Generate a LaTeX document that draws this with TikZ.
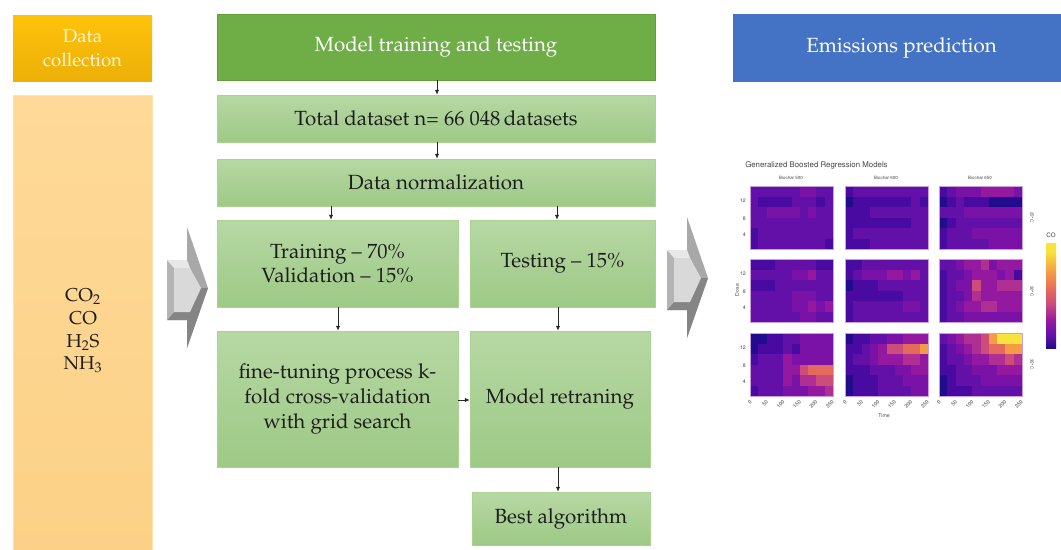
\documentclass[tikz,border=0pt]{standalone}
\usepackage[T1]{fontenc}
\usepackage{mathpazo}
\usepackage[scaled=0.92]{helvet}
\usetikzlibrary{arrows.meta}

% box colours
\definecolor{gtop}{HTML}{B7D8A4}
\definecolor{gbot}{HTML}{9DC985}
\definecolor{boxedge}{HTML}{ACD292}
\definecolor{ghead}{HTML}{6FAD47}
\definecolor{gheadedge}{HTML}{639D3E}
\definecolor{bhead}{HTML}{4472C4}
\definecolor{otop}{HTML}{FFC20A}
\definecolor{obot}{HTML}{ECB008}
\definecolor{ltop}{HTML}{FED998}
\definecolor{lbot}{HTML}{FCD186}
\definecolor{ledge}{HTML}{FDE2AE}
\definecolor{txt}{HTML}{1E1E1E}
\definecolor{cream}{HTML}{FFF6DA}
% bevelled arrow greys
\definecolor{agmid}{HTML}{A8A8A8}
\definecolor{agdark}{HTML}{858585}
\definecolor{agface}{HTML}{D9D9D9}
\definecolor{agleft}{HTML}{B4B4B4}
\definecolor{agtop}{HTML}{E8E8E8}
% heat-map palette (plasma-like)
\definecolor{hm0}{HTML}{220C8E}
\definecolor{hm1}{HTML}{480AA0}
\definecolor{hm2}{HTML}{6210A8}
\definecolor{hm3}{HTML}{7A12A8}
\definecolor{hm4}{HTML}{9418A0}
\definecolor{hm5}{HTML}{B02F92}
\definecolor{hm6}{HTML}{CC4C7A}
\definecolor{hm7}{HTML}{E56A5E}
\definecolor{hm8}{HTML}{F59A45}
\definecolor{hm9}{HTML}{F7E33A}
\definecolor{hmtext}{HTML}{444444}

% colour bar: the visible part of a TikZ shading runs from 25bp to 75bp
\pgfdeclareverticalshading{plasmabar}{100bp}{color(0bp)=(hm0); color(25bp)=(hm0);
  color(31bp)=(hm2); color(38bp)=(hm4); color(46bp)=(hm6); color(53bp)=(hm7);
  color(61bp)=(hm8); color(71bp)=(hm9); color(75bp)=(hm9); color(100bp)=(hm9)}

% heat-map panel: x, y of the top-left corner, cell values row by row
\newcommand\hmpanel[3]{%
  \foreach \hmrow [count=\r from 0] in #3 {%
    \foreach \v [count=\c from 0] in \hmrow {%
      \fill[hm\v] ({#1+\c*8.3},{#2+\r*10.5}) rectangle ++(8.3,10.5);
    }%
  }%
  \draw[hm3!40!white, line width=0.3pt] (#1,#2) rectangle ++(83,63);
}

\def\PanA{{2,2,2,2,2,2,3,3,2,2},{2,1,1,1,1,2,2,2,1,2},{2,2,3,3,3,3,2,3,2,2},{2,2,2,2,2,2,2,2,2,2},{1,2,2,2,2,2,2,2,2,2},{1,2,2,2,2,2,2,2,2,1}}
\def\PanB{{1,2,2,2,2,2,2,2,2,2},{0,1,1,1,1,1,1,1,2,1},{1,1,1,2,2,2,2,2,2,2},{1,1,1,1,1,1,1,1,2,2},{1,2,2,2,2,2,2,2,2,2},{1,1,1,2,2,2,2,2,2,2}}
\def\PanC{{1,2,3,3,3,4,4,4,4,3},{0,1,2,1,1,1,0,0,0,0},{2,2,2,3,3,3,3,3,3,3},{0,1,2,2,2,2,2,2,2,2},{1,2,2,2,3,3,3,3,3,3},{1,2,2,2,2,2,3,3,3,3}}
\def\PanD{{1,1,1,2,2,2,2,2,1,1},{2,2,2,2,2,3,3,4,2,2},{1,1,1,2,2,2,2,2,2,2},{2,2,2,2,2,3,3,3,2,2},{2,2,2,2,2,3,3,4,3,4},{2,2,2,2,2,2,3,3,2,2}}
\def\PanE{{1,1,2,2,2,2,2,2,2,2},{1,2,3,3,3,4,4,3,4,2},{0,1,1,1,2,2,2,2,2,2},{1,1,1,1,1,1,1,2,2,2},{1,2,2,2,2,2,2,3,3,2},{1,2,2,2,2,2,2,2,2,2}}
\def\PanF{{2,2,3,4,4,5,3,4,4,4},{1,2,2,3,4,4,4,3,4,1},{1,2,3,3,6,4,4,5,5,5},{1,2,2,3,5,4,4,4,4,4},{1,2,3,4,4,5,5,4,4,4},{1,2,2,3,3,3,3,3,3,3}}
\def\PanG{{0,0,1,1,2,2,3,3,3,3},{0,1,1,1,2,1,3,3,3,3},{1,2,2,2,4,3,3,3,3,3},{2,2,2,2,4,4,6,7,7,7},{2,2,2,2,4,3,5,5,6,6},{1,2,2,2,3,3,3,4,4,5}}
\def\PanH{{0,1,1,2,2,3,3,4,4,4},{1,1,2,3,4,6,6,7,7,8},{1,2,2,3,4,4,4,5,5,4},{1,1,1,2,2,2,3,3,4,4},{0,1,1,1,2,2,2,3,3,3},{0,1,1,1,2,2,2,2,3,3}}
\def\PanI{{2,3,4,5,5,6,8,9,9,9},{1,2,3,4,5,6,7,7,8,8},{1,2,2,3,4,4,5,5,6,5},{1,1,2,2,3,3,3,4,4,4},{0,1,2,2,2,3,3,3,3,3},{0,1,1,1,2,2,2,2,2,2}}

% bevelled grey block arrow, tip at (208,288)
\newcommand\bevelarrow{%
  \fill[agmid] (167,260) -- (187,260) -- (187,227) -- (208,288) -- (187,348) -- (187,320) -- (167,320) -- cycle;
  \fill[agdark] (167,320) -- (187,320) -- (187,348) -- (208,288) -- (201,288) -- (190,312) -- (174,312) -- cycle;
  \fill[agleft] (167,260) -- (174,268) -- (174,312) -- (167,320) -- cycle;
  \fill[agtop] (167,260) -- (187,260) -- (190,268) -- (174,268) -- cycle;
  \fill[agface] (174,268) -- (190,268) -- (201,288) -- (190,312) -- (174,312) -- cycle;
}

\begin{document}
\begin{tikzpicture}[x=0.75pt,y=-0.75pt,
  sz/.style 2 args={minimum width=#1*0.75pt, minimum height=#2*0.75pt},
  gbox/.style={draw=boxedge, line width=0.5pt, top color=gtop, bottom color=gbot,
    inner sep=0pt, text=txt, align=center, font=\fontsize{15.4}{18.3}\selectfont},
  hdr/.style={inner sep=0pt, align=center, font=\fontsize{15.4}{18}\selectfont},
  conn/.style={draw=black!85, line width=0.55pt, -{Latex[length=3.6pt,width=3.2pt]}},
  hmlbl/.style={text=hmtext, inner sep=0pt, font=\sffamily\fontsize{3.6}{4}\selectfont},
  hmtick/.style={text=hmtext, inner sep=0pt, font=\sffamily\fontsize{4.2}{5}\selectfont}]

\useasboundingbox (0,0) rectangle (1061,550);
\fill[white] (0,0) rectangle (1061,550);
\clip (0,0) rectangle (1061,550);

% data collection column
\node[hdr, sz={139}{66}, text=cream, top color=otop, bottom color=obot,
  font=\fontsize{14}{18}\selectfont] (dchead) at (82.5,48) {Data\\collection};
\node[hdr, sz={139}{465}, draw=ledge, line width=0.6pt, top color=ltop, bottom color=lbot] (dcbody) at (82.5,327.5) {};
\node[text=txt, align=center, inner sep=0pt, font=\fontsize{14}{17}\selectfont] (gases) at (83,331)
  {CO$_2$\\CO\\H$_2$S\\NH$_3$};

% model training and testing column
\node[hdr, sz={438}{66}, text=white, fill=ghead, draw=gheadedge, line width=0.5pt] (mthead) at (436,47) {Model training and testing};
\node[gbox, sz={438}{47}] (total) at (436,118.5) {Total dataset n= 66 048\,datasets};
\node[gbox, sz={438}{47}] (norm) at (436,182.5) {Data normalization};
\node[gbox, sz={241}{87}] (train) at (337.5,263.5) {Training -- 70\%\\Validation -- 15\%};
\node[gbox, sz={185}{87}] (test) at (562.5,263.5) {Testing -- 15\%};
\node[gbox, sz={241}{136}, font=\fontsize{15.4}{18.6}\selectfont] (fine) at (337.5,399) {fine-tuning process k-\\fold cross-validation\\with grid search};
\node[gbox, sz={180}{136}] (retrain) at (560,399) {Model retraning};
\node[gbox, sz={178}{53}] (best) at (561,518.5) {Best algorithm};

% emissions prediction column
\node[hdr, sz={337}{68}, text=white, fill=bhead] (ephead) at (901.5,48) {Emissions prediction};

% connectors
\coordinate (xa) at (437,0);
\coordinate (xb) at (331,0);
\coordinate (xc) at (557,0);
\coordinate (xd) at (338,0);
\coordinate (xe) at (558,0);
\coordinate (ya) at (0,400);
\draw[conn] (mthead.south -| xa) -- (total.north -| xa);
\draw[conn] (total.south -| xa) -- (norm.north -| xa);
\draw[conn] (norm.south -| xb) -- (train.north -| xb);
\draw[conn] (norm.south -| xc) -- (test.north -| xc);
\draw[conn] (train.south -| xd) -- (fine.north -| xd);
\draw[conn] (test.south -| xe) -- (retrain.north -| xe);
\draw[conn] (fine.east |- ya) -- (retrain.west |- ya);
\draw[conn] (retrain.south -| xe) -- (best.north -| xe);

% block arrows between the columns
\bevelarrow
\begin{scope}[shift={(500,-10)}]
  \bevelarrow
\end{scope}

% heat maps of predicted emissions
\node[anchor=west, text=hmtext, inner sep=0pt, font=\sffamily\fontsize{6.4}{7}\selectfont] (hmtitle) at (745,165) {Generalized Boosted Regression Models};
\hmpanel{750}{186}{\PanA}
\hmpanel{845}{186}{\PanB}
\hmpanel{939}{186}{\PanC}
\hmpanel{750}{259}{\PanD}
\hmpanel{845}{259}{\PanE}
\hmpanel{939}{259}{\PanF}
\hmpanel{750}{333}{\PanG}
\hmpanel{845}{333}{\PanH}
\hmpanel{939}{333}{\PanI}
\node[hmlbl] (bc1) at (791,178) {Biochar 500};
\node[hmlbl] (bc2) at (886,178) {Biochar 600};
\node[hmlbl] (bc3) at (980,178) {Biochar 650};
\node[hmlbl, rotate=-90] (tc1) at (1032,217) {25\textdegree C};
\node[hmlbl, rotate=-90] (tc2) at (1032,291) {30\textdegree C};
\node[hmlbl, rotate=-90] (tc3) at (1032,364) {35\textdegree C};
\foreach \ry in {186,259,333} {
  \node[hmtick, anchor=east] at (746,\ry+15) {12};
  \node[hmtick, anchor=east] at (746,\ry+33) {8};
  \node[hmtick, anchor=east] at (746,\ry+49) {4};
}
\foreach \cx in {750,845,939} {
  \foreach \t [count=\k from 0] in {0,50,100,150,200,250} {
    \node[hmtick, anchor=east, rotate=45] at ({\cx+\k*16.4+1},401) {\t};
  }
}
\node[hmtick, rotate=90] (doselbl) at (737,290) {Dose};
\node[hmtick] (timelbl) at (884,416) {Time};
\node[hmtick, font=\sffamily\fontsize{5}{6}\selectfont] (colbl) at (1051,235) {CO};
\shade[shading=plasmabar] (1046,243) rectangle (1056,348);
\end{tikzpicture}
\end{document}
